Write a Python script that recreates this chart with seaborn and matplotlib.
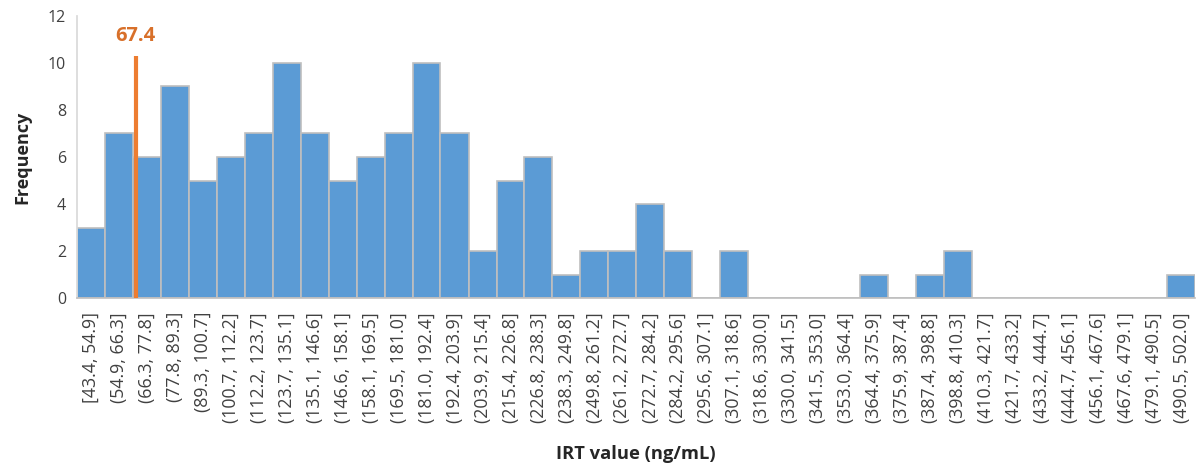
import numpy as np
import pandas as pd
import matplotlib
matplotlib.use("Agg")
import matplotlib.pyplot as plt
import seaborn as sns

# Bin edges of the IRT histogram (ng/mL) and the count in each bin
bin_edges = [43.4, 54.9, 66.3, 77.8, 89.3, 100.7, 112.2, 123.7, 135.1, 146.6,
             158.1, 169.5, 181.0, 192.4, 203.9, 215.4, 226.8, 238.3, 249.8, 261.2,
             272.7, 284.2, 295.6, 307.1, 318.6, 330.0, 341.5, 353.0, 364.4, 375.9,
             387.4, 398.8, 410.3, 421.7, 433.2, 444.7, 456.1, 467.6, 479.1, 490.5,
             502.0]
counts = [3, 7, 6, 9, 5, 6, 7, 10, 7, 5,
          6, 7, 10, 7, 2, 5, 6, 1, 2, 2,
          4, 2, 0, 2, 0, 0, 0, 0, 1, 0,
          1, 2, 0, 0, 0, 0, 0, 0, 0, 1]
cutoff_value = 67.4
cutoff_label = "67.4"

edges = np.array(bin_edges)
mids = (edges[:-1] + edges[1:]) / 2
tick_labels = [("[" if i == 0 else "(") + f"{edges[i]:.1f}, {edges[i+1]:.1f}]"
               for i in range(len(counts))]

sns.set_theme(style="white")
plt.rcParams["font.family"] = ["Open Sans", "DejaVu Sans"]

fig = plt.figure(figsize=(11.96, 4.68), dpi=100)
ax = fig.add_axes([0.0645, 0.363, 0.935, 0.603])

df = pd.DataFrame({"irt": mids, "n": counts})
sns.histplot(data=df, x="irt", weights="n", bins=list(bin_edges), ax=ax,
             color="#5B9BD5", alpha=1.0, edgecolor="#BFBFBF", linewidth=1.2)

# Cut-off marker
ax.plot([cutoff_value, cutoff_value], [0, 10.3], color="#ED7D31", lw=3,
        solid_capstyle="butt", zorder=5)
ax.text(cutoff_value, 11.15, cutoff_label, color="#D8702A", fontsize=14.5,
        fontweight="bold", ha="center", va="center")

ax.set_xlim(edges[0], edges[-1])
ax.set_ylim(0, 12)
ax.set_yticks(range(0, 13, 2))
ax.set_xticks(mids)
ax.set_xticklabels(tick_labels, rotation=90, fontsize=12.8, color="#404040")
ax.tick_params(axis="y", labelsize=11.5, labelcolor="#404040", length=0, pad=8)
ax.tick_params(axis="x", length=0, pad=10)

for side in ["top", "right"]:
    ax.spines[side].set_visible(False)
ax.spines["left"].set_color("#D9D9D9")
ax.spines["bottom"].set_color("#BFBFBF")
ax.spines["bottom"].set_linewidth(1.2)

ax.set_ylabel("Frequency", fontsize=13, fontweight="bold", color="#262626", labelpad=12)
ax.set_xlabel("IRT value (ng/mL)", fontsize=13.2, fontweight="bold", color="#262626", labelpad=16)

fig.savefig("out.png", dpi=100)
